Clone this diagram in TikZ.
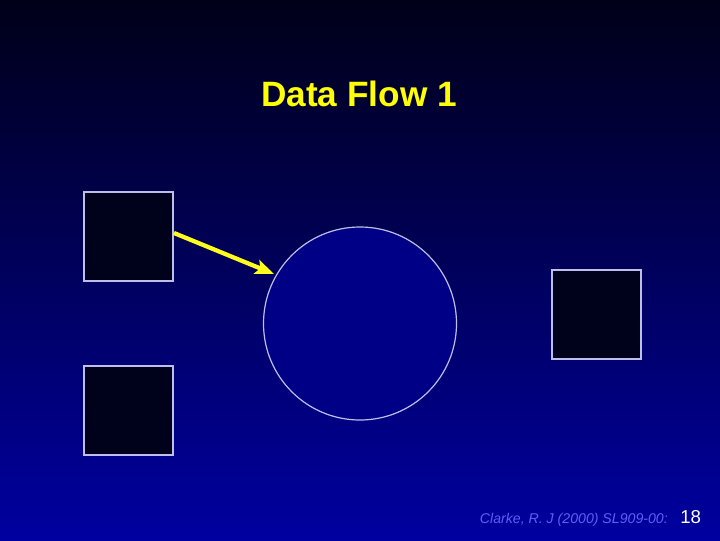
\documentclass[tikz,border=0pt]{standalone}
\usepackage{fontspec}
\setmainfont{Liberation Sans}
\usetikzlibrary{arrows.meta}
\begin{document}
\begin{tikzpicture}[x=0.75pt,y=-0.75pt,
  box/.style={draw={rgb,255:red,190;green,190;blue,235},line width=0.9pt,fill={rgb,255:red,0;green,2;blue,28}},
  bubble/.style={draw={rgb,255:red,190;green,190;blue,235},line width=0.9pt,fill={rgb,255:red,0;green,0;blue,135}},
  flow/.style={draw={rgb,255:red,255;green,255;blue,30},line width=3.2pt,-{Stealth[length=14pt,width=11pt,inset=3pt]}}]
\definecolor{topbg}{RGB}{0,0,24}
\definecolor{botbg}{RGB}{0,0,160}
\definecolor{footc}{RGB}{95,95,245}
\shade[top color=topbg,bottom color=botbg] (0,0) rectangle (720,540);
\useasboundingbox (0,0) rectangle (720,540);
\node[box,minimum width=89*0.75pt,minimum height=89*0.75pt,inner sep=0pt] (b1) at (128.5,236.5) {};
\node[box,minimum width=89*0.75pt,minimum height=89*0.75pt,inner sep=0pt] (b2) at (128.5,410.5) {};
\node[box,minimum width=89*0.75pt,minimum height=89*0.75pt,inner sep=0pt] (b3) at (596.5,314.5) {};
\node[bubble,circle,minimum size=193*0.75pt,inner sep=0pt] (p) at (360,323.5) {};
\coordinate (s) at (174,233);
\coordinate (e) at (274,274);
\draw[flow] (s) -- (e);
\node[text={rgb,255:red,255;green,255;blue,0},font=\fontsize{26.4}{31}\selectfont\bfseries] (t) at (359,94) {Data Flow 1};
\node[text=footc,font=\fontsize{10.6}{12}\selectfont\itshape,anchor=base east,inner sep=0pt] (f) at (668,523) {Clarke, R. J (2000) SL909-00:};
\node[text=white,font=\fontsize{14}{16}\selectfont,anchor=base west,inner sep=0pt] (n) at (680,523.5) {18};
\end{tikzpicture}
\end{document}
